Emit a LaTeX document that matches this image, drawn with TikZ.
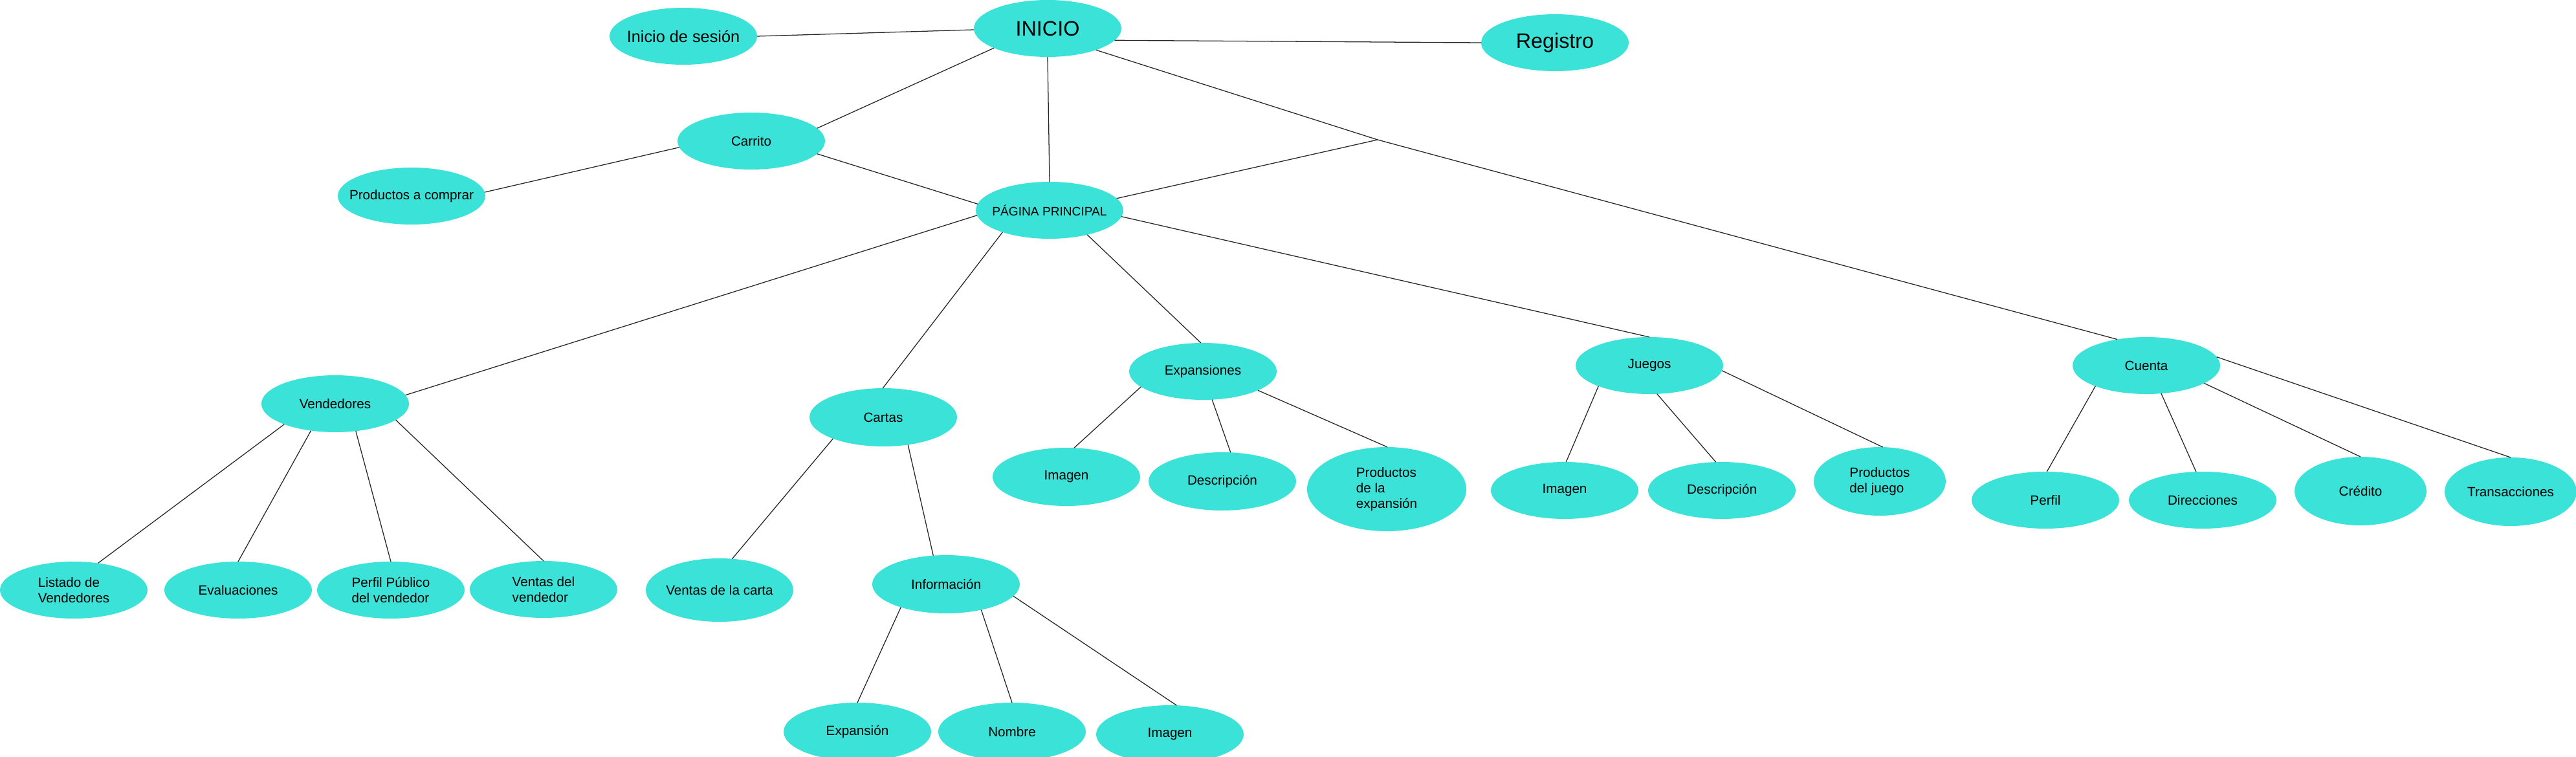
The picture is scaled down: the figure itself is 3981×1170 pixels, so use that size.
\documentclass[tikz,border=0pt]{standalone}
\usepackage{fontspec}
\setmainfont{Liberation Sans}
\usetikzlibrary{shapes.geometric}
\definecolor{tq}{RGB}{58,226,216}
\begin{document}
\begin{tikzpicture}[x=0.025cm,y=-0.025cm,
  bub/.style={ellipse, fill=tq, draw=none, inner sep=0pt, outer sep=0pt,
    minimum width=228*0.025cm, minimum height=88*0.025cm},
  sz/.style 2 args={minimum width=#1*0.025cm, minimum height=#2*0.025cm},
  every label/.style={font=\fontsize{14.7}{17}\selectfont, align=left, inner sep=0pt, text=black},
  big/.style={font=\fontsize{23}{27}\selectfont},
  med/.style={font=\fontsize{18}{21}\selectfont},
  sml/.style={font=\fontsize{13.6}{16}\selectfont},
  ln/.style={draw=black!85, line width=0.9pt}]
\useasboundingbox (0,0) rectangle (3981,1170);

% nodes
\node[bub, label={[big]center:INICIO}] (ini) at (1619,44) {};
\node[bub, label={[med]center:Inicio de sesión}] (ses) at (1056,56) {};
\node[bub, label={[big]center:Registro}] (reg) at (2403,66) {};
\node[bub, label={center:Carrito}] (car) at (1161,218) {};
\node[bub, label={center:Productos a comprar}] (pac) at (636,303) {};
\node[bub, label={[sml]center:PÁGINA PRINCIPAL}] (pag) at (1622,325) {};

\node[bub, label={center:Vendedores}] (ven) at (518,624) {};
\node[bub, label={center:{Listado de\\Vendedores}}] (lis) at (114,912) {};
\node[bub, label={center:Evaluaciones}] (eva) at (368,912) {};
\node[bub, label={center:{Perfil Público\\del vendedor}}] (ppv) at (604,912) {};
\node[bub, label={center:{Ventas del\\vendedor}}] (vdv) at (840,911) {};

\node[bub, sz={228}{90}, label={center:Cartas}] (cart) at (1365,645) {};
\node[bub, sz={228}{98}, label={center:Ventas de la carta}] (vca) at (1112,912) {};
\node[bub, sz={228}{90}, label={center:Información}] (inf) at (1462,903) {};
\node[bub, sz={228}{90}, label={center:Expansión}] (xpn) at (1325,1131) {};
\node[bub, sz={228}{90}, label={center:Nombre}] (nom) at (1564,1131) {};
\node[bub, sz={228}{90}, label={center:Imagen}] (img3) at (1808,1135) {};

\node[bub, label={center:Expansiones}] (exs) at (1859,574) {};
\node[bub, sz={228}{90}, label={center:Imagen}] (img1) at (1648,737) {};
\node[bub, sz={228}{90}, label={center:Descripción}] (des1) at (1889,744) {};
\node[bub, sz={246}{130}, label={center:{Productos\\de la\\expansión}}] (pde) at (2143,756) {};

\node[bub, label={center:Juegos}] (jue) at (2549,565) {};
\node[bub, label={center:Imagen}] (img2) at (2418,758) {};
\node[bub, label={center:Descripción}] (des2) at (2661,758) {};
\node[bub, sz={204}{106}, label={center:{Productos\\del juego}}] (pdj) at (2905,744) {};

\node[bub, label={center:Cuenta}] (cue) at (3317,565) {};
\node[bub, label={center:Perfil}] (per) at (3161,773) {};
\node[bub, label={center:Direcciones}] (dir) at (3404,773) {};
\node[bub, sz={204}{106}, label={center:Crédito}] (cre) at (3648,759) {};
\node[bub, sz={204}{106}, label={center:Transacciones}] (tra) at (3880,760) {};

\coordinate (J) at (2129,216);

% connectors
\draw[ln] (ses.0) -- (ini.181);
\draw[ln] (ini.350) -- (reg.180);
\draw[ln] (ini.200) -- (car.11);
\draw[ln] (ini.270) -- (pag.90);
\draw[ln] (ini.336) -- (J) -- (cue.138);
\draw[ln] (pag.10) -- (J);
\draw[ln] (car.185) -- (pac.3);
\draw[ln] (car.349) -- (pag.175);

\draw[ln] (pag.184) -- (ven.7);
\draw[ln] (pag.205) -- (cart.91);
\draw[ln] (pag.327) -- (exs.94);
\draw[ln] (pag.355) -- (jue.90);

\draw[ln] (ven.202) -- (lis.48);
\draw[ln] (ven.228) -- (eva.90);
\draw[ln] (ven.307) -- (ppv.90);
\draw[ln] (ven.345) -- (vdv.90);

\draw[ln] (cart.203) -- (vca.68);
\draw[ln] (cart.312) -- (inf.114);
\draw[ln] (inf.207) -- (xpn.90);
\draw[ln] (inf.324) -- (nom.90);
\draw[ln] (inf.350) -- (img3.77);

\draw[ln] (exs.194) -- (img1.75);
\draw[ln] (exs.288) -- (des1.74);
\draw[ln] (exs.341) -- (pde.89);

\draw[ln] (jue.202) -- (img2.87);
\draw[ln] (jue.285) -- (des2.102);
\draw[ln] (jue.356) -- (pdj.85);

\draw[ln] (cue.202) -- (per.87);
\draw[ln] (cue.298) -- (dir.103);
\draw[ln] (cue.343) -- (cre.90);
\draw[ln] (cue.7) -- (tra.90);
\end{tikzpicture}
\end{document}
